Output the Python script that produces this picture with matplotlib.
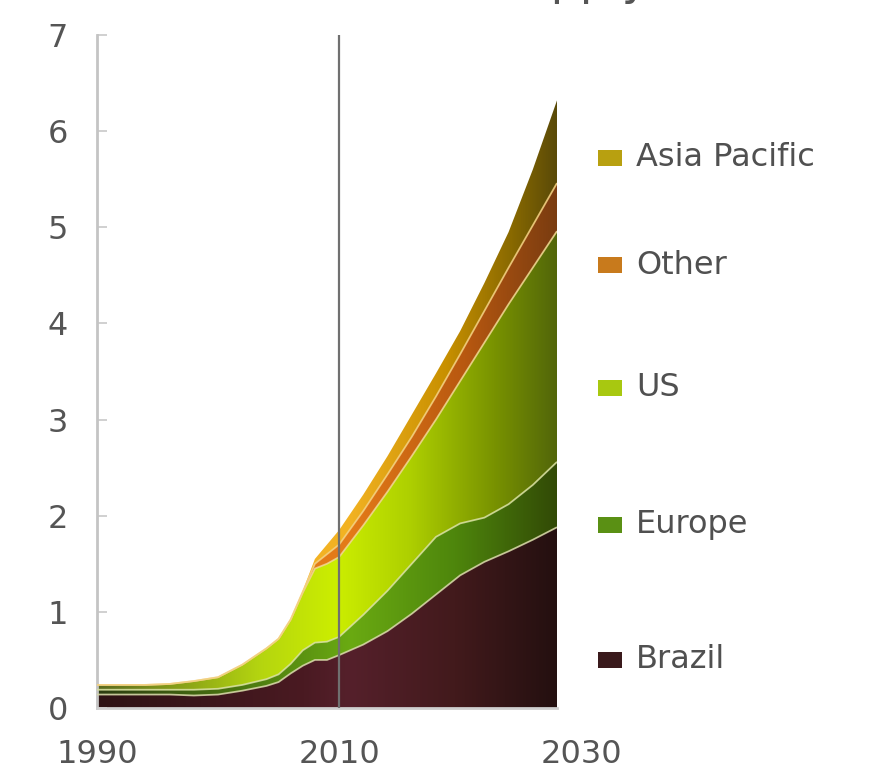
import numpy as np
import matplotlib
matplotlib.use("Agg")
import matplotlib.pyplot as plt
from matplotlib.colors import LinearSegmentedColormap
from matplotlib.patches import Rectangle

# Biofuels supply by region (Mb/d), stacked layers
years = [1990, 1992, 1994, 1996, 1998, 2000, 2002, 2004, 2005, 2006, 2007,
         2008, 2009, 2010, 2012, 2014, 2016, 2018, 2020, 2022, 2024, 2026, 2028]

brazil = [0.14, 0.14, 0.14, 0.14, 0.13, 0.14, 0.18, 0.23, 0.27, 0.36, 0.44,
          0.50, 0.50, 0.55, 0.66, 0.80, 0.98, 1.18, 1.38, 1.52, 1.63, 1.75, 1.88]
europe = [0.05, 0.05, 0.05, 0.05, 0.06, 0.06, 0.06, 0.07, 0.08, 0.10, 0.16,
          0.18, 0.19, 0.19, 0.31, 0.42, 0.52, 0.60, 0.54, 0.46, 0.49, 0.57, 0.68]
us = [0.05, 0.05, 0.05, 0.06, 0.09, 0.12, 0.21, 0.32, 0.37, 0.46, 0.60,
      0.77, 0.81, 0.83, 0.93, 1.03, 1.12, 1.22, 1.48, 1.82, 2.08, 2.26, 2.40]
other = [0.0, 0.0, 0.0, 0.0, 0.0, 0.0, 0.0, 0.0, 0.0, 0.0, 0.01,
         0.05, 0.10, 0.13, 0.15, 0.18, 0.20, 0.24, 0.28, 0.33, 0.38, 0.44, 0.50]
asia_pacific = [0.0, 0.0, 0.0, 0.0, 0.0, 0.0, 0.0, 0.0, 0.0, 0.0, 0.01,
                0.05, 0.10, 0.15, 0.17, 0.19, 0.23, 0.24, 0.24, 0.29, 0.37, 0.58, 0.86]

series_names = ["Brazil", "Europe", "US", "Other", "Asia Pacific"]
y_ticks = [0, 1, 2, 3, 4, 5, 6, 7]
x_tick_labels = [1990, 2010, 2030]
marker_year = 2010
title = "Biofuels supply"

# horizontal colour ramps for each layer (dark at both ends, bright around 2010)
ramps = {
    "Brazil": [(0.0, "#2e1214"), (0.45, "#4a1a22"), (0.55, "#55202b"),
               (0.78, "#421a1c"), (1.0, "#241010")],
    "Europe": [(0.0, "#2c3c10"), (0.35, "#4e7e10"), (0.55, "#6aaa12"),
               (0.78, "#4e860c"), (1.0, "#324a06")],
    "US": [(0.0, "#5a6a20"), (0.35, "#b4d410"), (0.52, "#ccee00"),
           (0.68, "#aed000"), (0.86, "#7a9400"), (1.0, "#52660a")],
    "Other": [(0.0, "#e08020"), (0.55, "#e47a18"), (0.8, "#b85810"),
              (1.0, "#7a3c10")],
    "Asia Pacific": [(0.0, "#f4b830"), (0.55, "#f2b222"), (0.76, "#c89000"),
                     (0.9, "#8a6a00"), (1.0, "#5a4a08")],
}
legend_colors = {
    "Asia Pacific": "#b8a010", "Other": "#c87a1c", "US": "#a8c810",
    "Europe": "#5a9014", "Brazil": "#3a1a1c",
}
edge_colors = ["#d8d8a8", "#d8e0a0", "#f0d890", "#f4d080"]

W, H, DPI = 877, 779, 100
fig = plt.figure(figsize=(W / DPI, H / DPI), dpi=DPI)
fig.patch.set_facecolor("white")

ax_left, ax_right, ax_bottom, ax_top = 97, 557, 708, 35
ax = fig.add_axes([ax_left / W, 1 - ax_bottom / H,
                   (ax_right - ax_left) / W, (ax_bottom - ax_top) / H])

x = np.array(years, dtype=float)
layers = [np.array(v) for v in (brazil, europe, us, other, asia_pacific)]
cum = np.cumsum(layers, axis=0)
lower = np.vstack([np.zeros_like(x), cum[:-1]])

grad = np.linspace(0, 1, 512).reshape(1, -1)
for i, name in enumerate(series_names):
    poly = ax.fill_between(x, lower[i], cum[i], facecolor="none",
                           edgecolor="none", zorder=1)
    cmap = LinearSegmentedColormap.from_list(name, ramps[name])
    im = ax.imshow(grad, cmap=cmap, extent=[x[0], x[-1], 0, 7],
                   aspect="auto", origin="lower", interpolation="bilinear",
                   zorder=1 + i * 0.01)
    im.set_clip_path(poly.get_paths()[0], ax.transData)

# thin light seams between the stacked layers
for i in range(len(series_names) - 1):
    ax.plot(x, cum[i], color=edge_colors[i], lw=1.3, alpha=0.85, zorder=3,
            solid_capstyle="butt")

# 2010 divider between history and projection
ax.axvline(marker_year, ymin=0, ymax=1, color="#707070", lw=1.6, zorder=4)

ax.set_xlim(x[0], x[-1])
ax.set_ylim(0, 7)
ax.set_yticks(y_ticks)
ax.set_yticklabels([str(t) for t in y_ticks])
ax.set_xticks([t for t in x_tick_labels if t <= x[-1]])
ax.set_xticklabels([str(t) for t in x_tick_labels if t <= x[-1]])

label_kw = dict(fontsize=23, color="#555555", family="DejaVu Sans")
x_pad = 22
for lab in ax.get_yticklabels() + ax.get_xticklabels():
    lab.set_fontsize(label_kw["fontsize"])
    lab.set_color(label_kw["color"])
ax.tick_params(axis="y", direction="in", length=7, width=1.2,
               color="#c8c8c8", pad=21)
ax.tick_params(axis="x", length=0, pad=x_pad)
for t in x_tick_labels:
    if t > x[-1]:
        ax.annotate(str(t), xy=(t, 0), xycoords=("data", "axes fraction"),
                    xytext=(0, -x_pad), textcoords="offset points",
                    ha="center", va="top", annotation_clip=False, **label_kw)

for side in ("top", "right"):
    ax.spines[side].set_visible(False)
ax.spines["left"].set_color("#c4c4c4")
ax.spines["left"].set_linewidth(2.0)
ax.spines["bottom"].set_color("#cfcfcf")
ax.spines["bottom"].set_linewidth(2.0)

# legend column on the right
legend_y = {"Asia Pacific": 158, "Other": 265, "US": 388,
            "Europe": 525, "Brazil": 660}
for name in series_names[::-1]:
    yc = legend_y[name]
    fig.patches.append(Rectangle((598 / W, 1 - (yc + 8) / H), 24 / W, 16 / H,
                                 transform=fig.transFigure,
                                 facecolor=legend_colors[name],
                                 edgecolor="none"))
    fig.text(636 / W, 1 - yc / H, name, ha="left", va="center",
             fontsize=23, color="#505050", family="DejaVu Sans")

fig.text(475 / W, 1 + 6 / H, title, ha="center", va="baseline",
         fontsize=33, color="#555555", family="DejaVu Sans")

fig.savefig("out.png", dpi=DPI, facecolor="white")
